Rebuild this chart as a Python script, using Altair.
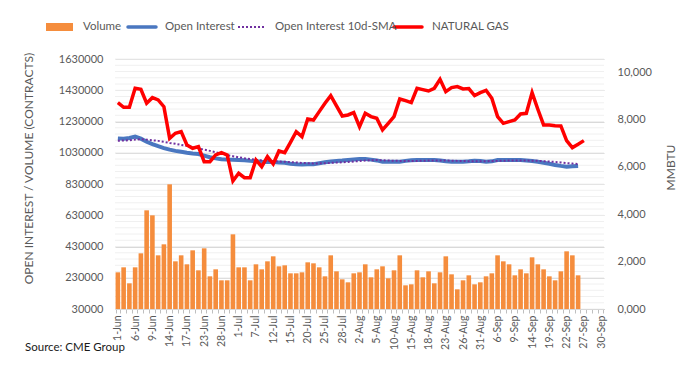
import altair as alt
import pandas as pd

# ---- data -----------------------------------------------------------------
dates = [
    "1-Jun", "2-Jun", "3-Jun", "6-Jun", "7-Jun", "8-Jun", "9-Jun", "10-Jun", "13-Jun", "14-Jun",
    "15-Jun", "16-Jun", "17-Jun", "21-Jun", "22-Jun", "23-Jun", "24-Jun", "27-Jun", "28-Jun", "29-Jun",
    "30-Jun", "1-Jul", "5-Jul", "6-Jul", "7-Jul", "8-Jul", "11-Jul", "12-Jul", "13-Jul", "14-Jul",
    "15-Jul", "18-Jul", "19-Jul", "20-Jul", "21-Jul", "22-Jul", "25-Jul", "26-Jul", "27-Jul", "28-Jul",
    "29-Jul", "1-Aug", "2-Aug", "3-Aug", "4-Aug", "5-Aug", "8-Aug", "9-Aug", "10-Aug", "11-Aug",
    "12-Aug", "15-Aug", "16-Aug", "17-Aug", "18-Aug", "19-Aug", "22-Aug", "23-Aug", "24-Aug", "25-Aug",
    "26-Aug", "29-Aug", "30-Aug", "31-Aug", "1-Sep", "2-Sep", "6-Sep", "7-Sep", "8-Sep", "9-Sep",
    "12-Sep", "13-Sep", "14-Sep", "15-Sep", "16-Sep", "19-Sep", "20-Sep", "21-Sep", "22-Sep", "23-Sep",
    "26-Sep", "27-Sep", "28-Sep", "29-Sep", "30-Sep",
]

volume = [
    264700, 296700, 194300, 296700, 386300, 661500, 629500, 373500, 443900, 827900,
    335100, 373500, 315900, 405500, 277500, 418300, 239100, 283900, 213500, 213500,
    507900, 296700, 296700, 213500, 315900, 283900, 335100, 367100, 303100, 309500,
    258300, 258300, 264700, 328700, 322300, 296700, 239100, 373500, 271100, 219900,
    200700, 258300, 264700, 315900, 232700, 283900, 303100, 226300, 277500, 373500,
    181500, 187900, 277500, 232700, 271100, 194300, 264700, 367100, 251900, 155900,
    213500, 245500, 187900, 200700, 239100, 258300, 373500, 335100, 315900, 245500,
    283900, 258300, 360700, 315900, 283900, 239100, 213500, 271100, 399100, 373500,
    245500,
]

open_interest = [
    1122000, 1120000, 1125000, 1133000, 1120000, 1100000, 1085000, 1072000, 1060000, 1050000,
    1042000, 1036000, 1030000, 1025000, 1022000, 1012000, 1001000, 994000, 988000, 986000,
    985000, 984000, 982000, 978000, 975000, 972000, 971000, 970000, 968000, 966000,
    960000, 956000, 955000, 956000, 957000, 963000, 969000, 974000, 977000, 980000,
    984000, 987000, 990000, 990000, 986000, 981000, 972000, 972000, 972000, 973000,
    978000, 982000, 984000, 984000, 984000, 984000, 980000, 975000, 972000, 972000,
    972000, 975000, 979000, 977000, 972000, 975000, 984000, 983000, 984000, 984000,
    983000, 980000, 977000, 972000, 966000, 960000, 952000, 946000, 941000, 943000,
    945000,
]

oi_sma_10d = [
    1107000, 1108000, 1110000, 1114000, 1116000, 1114000, 1110000, 1106000, 1100000, 1093000,
    1087000, 1080000, 1074000, 1066000, 1058000, 1050000, 1042000, 1033000, 1024000, 1015000,
    1008000, 1001000, 995000, 990000, 985000, 981000, 978000, 976000, 974000, 972000,
    970000, 968000, 965000, 963000, 962000, 962000, 963000, 965000, 967000, 969000,
    971000, 974000, 977000, 980000, 982000, 983000, 982000, 980000, 979000, 978000,
    978000, 978000, 978000, 979000, 980000, 981000, 981000, 980000, 979000, 978000,
    977000, 976000, 976000, 976000, 976000, 977000, 978000, 979000, 980000, 980000,
    980000, 980000, 979000, 978000, 976000, 974000, 971000, 968000, 964000, 961000,
    958000,
]

natural_gas = [
    8716, 8521, 8521, 9324, 9282, 8690, 8928, 8830, 8547, 7211,
    7423, 7491, 6929, 6789, 6857, 6223, 6223, 6506, 6605, 6506,
    5408, 5732, 5549, 5549, 6295, 6013, 6436, 6126, 6675, 6605,
    7042, 7491, 7279, 8027, 7985, 8337, 8690, 9013, 8576, 8154,
    8196, 8294, 7703, 8267, 8126, 8055, 7562, 7843, 8126, 8872,
    8800, 8716, 9324, 9267, 9210, 9324, 9704, 9182, 9351, 9394,
    9295, 9310, 9013, 9140, 9238, 8900, 8126, 7843, 7913, 7985,
    8238, 8267, 9140, 8436, 7774, 7774, 7745, 7731, 7112, 6816,
    6957, 7112,
]

left_major_ticks = [30000, 230000, 430000, 630000, 830000, 1030000, 1230000, 1430000, 1630000]
left_minor_ticks = list(range(30000, 1630001, 40000))
right_ticks = [0, 2000, 4000, 6000, 8000, 10000]
shown_dates = dates[::3]

# ---- frames -----------------------------------------------------------------
n = len(volume)
df_left = pd.DataFrame({
    "date": dates[:n],
    "volume": volume,
    "oi": open_interest,
    "sma": oi_sma_10d,
})
df_gas = pd.DataFrame({"date": dates[:len(natural_gas)], "gas": natural_gas})
df_minor = pd.DataFrame({"tick": left_minor_ticks})

W, H = 489, 250
FONT = "Lato"
GREY = "#595959"

xscale = alt.Scale(domain=dates, paddingInner=0.2, paddingOuter=0.1)
shown_js = "[" + ",".join("'" + d + "'" for d in shown_dates) + "]"

x_enc = alt.X(
    "date:N",
    sort=dates,
    scale=xscale,
    axis=alt.Axis(
        title=None,
        labelAngle=270,
        labelExpr=f"indexof({shown_js}, datum.value) >= 0 ? datum.value : ''",
        labelOverlap=False,
        labelFontSize=10.5,
        labelColor=GREY,
        labelPadding=2,
        tickBand="extent",
        tickSize=4,
        tickColor="#bfbfbf",
        domainColor="#bfbfbf",
        grid=False,
    ),
)
x_plain = alt.X("date:N", sort=dates, scale=xscale, title=None)

left_scale = alt.Scale(domain=[30000, 1630000], nice=False, zero=False)

left_axis = alt.Axis(
    title="OPEN INTEREST / VOLUME (CONTRACTS)",
    values=left_major_ticks,
    format="d",
    labelOverlap=False,
    grid=True,
    gridColor="#d9d9d9",
    gridWidth=1,
    domain=False,
    ticks=False,
    labelPadding=12,
    labelFontSize=11,
    labelColor=GREY,
    titleFontSize=12,
    titleFontWeight="normal",
    titleColor=GREY,
    titleAngle=270,
    titleX=-87,
    titleY=109,
    titleAlign="center",
    titleBaseline="middle",
)

TITLE = "OPEN INTEREST / VOLUME (CONTRACTS)"

minor_grid = alt.Chart(df_minor).mark_rule(color="#f0f0f0", strokeWidth=1).encode(
    y=alt.Y("tick:Q", scale=left_scale, title=TITLE, axis=left_axis),
)

bars = alt.Chart(df_left).mark_bar(color="#f58d3d").encode(
    x=x_enc,
    y=alt.Y("volume:Q", scale=left_scale, title=TITLE, axis=left_axis),
    y2=alt.Y2(datum=30000),
)

oi_line = alt.Chart(df_left).mark_line(color="#4a77c0", strokeWidth=4).encode(
    x=x_plain,
    y=alt.Y("oi:Q", scale=left_scale, title=TITLE, axis=left_axis),
)

sma_line = alt.Chart(df_left).mark_line(color="#7030a0", strokeWidth=2, strokeDash=[2, 2]).encode(
    x=x_plain,
    y=alt.Y("sma:Q", scale=left_scale, title=TITLE, axis=left_axis),
)

left = alt.layer(minor_grid, bars, oi_line, sma_line)

gas_line = alt.Chart(df_gas).mark_line(color="#ff0000", strokeWidth=3.5).encode(
    x=x_plain,
    y=alt.Y(
        "gas:Q",
        scale=alt.Scale(domain=[0, 10560], nice=False, zero=True),
        axis=alt.Axis(
            orient="right",
            title="MMBTU",
            values=right_ticks,
            labelExpr="datum.value == 0 ? '0,000' : format(datum.value, ',')",
            grid=False,
            domain=False,
            ticks=False,
            labelPadding=13,
            labelFontSize=11,
            labelColor=GREY,
            titleFontSize=12,
            titleFontWeight="normal",
            titleColor=GREY,
            titleAngle=270,
            titleX=66,
            titleY=108,
            titleAlign="center",
            titleBaseline="middle",
        ),
    ),
)

# ---- manual legend & source ---------------------------------------------------
one = alt.Data(values=[{}])
leg_y = -32
legend = [
    alt.Chart(one).mark_rect(color="#f58d3d").encode(
        x=alt.value(-69), x2=alt.value(-42), y=alt.value(leg_y - 4), y2=alt.value(leg_y + 4)),
    alt.Chart(one).mark_rule(color="#4a77c0", strokeWidth=3.5, strokeCap="round").encode(
        x=alt.value(13), x2=alt.value(41), y=alt.value(leg_y)),
    alt.Chart(one).mark_rule(color="#7030a0", strokeWidth=2, strokeDash=[2, 2]).encode(
        x=alt.value(123), x2=alt.value(150), y=alt.value(leg_y)),
    alt.Chart(one).mark_rule(color="#ff0000", strokeWidth=3.5, strokeCap="round").encode(
        x=alt.value(279), x2=alt.value(307), y=alt.value(leg_y)),
]
for label, lx in [("Volume", -32), ("Open Interest", 50), ("Open Interest 10d-SMA", 160), ("NATURAL GAS", 317)]:
    legend.append(
        alt.Chart(one).mark_text(text=label, align="left", baseline="middle", font=FONT,
                                 fontSize=11.5, color=GREY).encode(x=alt.value(lx), y=alt.value(leg_y))
    )
legend.append(
    alt.Chart(one).mark_text(text="Source: CME Group", align="left", baseline="middle", font=FONT,
                             fontSize=11.5, color="#1a1a1a").encode(x=alt.value(-90), y=alt.value(289))
)

chart = alt.layer(left, gas_line, *legend).resolve_scale(y="independent").properties(
    width=W,
    height=H,
    autosize=alt.AutoSizeParams(type="none"),
    padding={"left": 107, "top": 51, "right": 86, "bottom": 74},
).configure_view(strokeWidth=0).configure_axis(
    labelFont=FONT, titleFont=FONT
).configure_text(font=FONT)

chart.save("out.html", embed_options={"renderer": "svg", "actions": False})
